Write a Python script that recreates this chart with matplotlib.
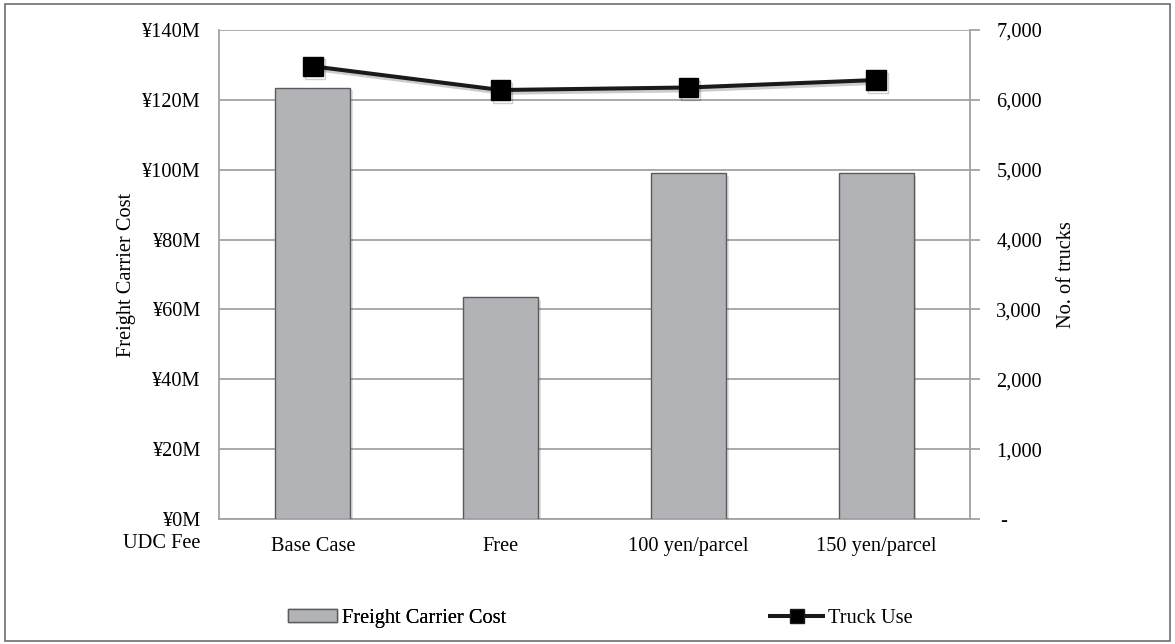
import matplotlib
matplotlib.use('Agg')
import matplotlib.pyplot as plt
import matplotlib.patheffects as pe
from matplotlib.patches import Rectangle, Patch
from matplotlib.lines import Line2D
from matplotlib.ticker import FuncFormatter

plt.rcParams['font.family'] = 'Liberation Serif'
plt.rcParams['font.size'] = 14.7

scenarios = ["Base Case", "Free", "100 yen/parcel", "150 yen/parcel"]
carrier_cost = [123.5, 63.6, 99.1, 99.1]      # million yen
truck_use = [6480, 6141, 6177, 6284]          # number of trucks

grid_col = '#a3a3a6'
bar_col = '#b2b3b6'


def yen_fmt(v, pos):
    return '¥%dM' % round(v)


def trucks_fmt(v, pos):
    if round(v) == 0:
        return ' -'
    return '{:,.0f}'.format(v)


def main():
    fig = plt.figure(figsize=(11.75, 6.44), dpi=100)
    ax = fig.add_axes([219 / 1175, 1 - 519 / 644, 751 / 1175, 489 / 644])

    x = list(range(len(scenarios)))
    shadow = [pe.SimplePatchShadow(offset=(2, -2), alpha=0.18, shadow_rgbFace='#555555'),
              pe.Normal()]
    ax.bar(x, carrier_cost, width=0.4, color=bar_col, edgecolor='#5a5a5c',
           linewidth=1.0, zorder=3, path_effects=shadow)

    ax.set_xlim(-0.5, 3.5)
    ax.set_ylim(0, 140)
    ax.set_yticks(range(0, 141, 20))
    ax.yaxis.set_major_formatter(FuncFormatter(yen_fmt))
    ax.yaxis.grid(True, color=grid_col, linewidth=1.3, zorder=0)
    ax.set_axisbelow(True)
    ax.set_xticks(x)
    ax.set_xticklabels(scenarios)
    ax.tick_params(axis='x', length=0, pad=13)
    ax.tick_params(axis='y', length=0, pad=13)
    ax.set_ylabel('Freight Carrier Cost')
    ax.yaxis.set_label_coords(-0.111, 0.5)
    for s in ['top', 'right']:
        ax.spines[s].set_visible(False)
    for s in ['left', 'bottom']:
        ax.spines[s].set_color(grid_col)
        ax.spines[s].set_linewidth(1.3)

    ax2 = ax.twinx()
    ax2.plot(x, truck_use, color='#1a1a1a', linewidth=2.9, marker='s',
             markersize=14, markerfacecolor='black', markeredgecolor='black',
             zorder=5,
             path_effects=[pe.SimpleLineShadow(offset=(1.5, -2), alpha=0.2), pe.Normal()])
    ax2.set_ylim(0, 7000)
    ax2.set_yticks(range(0, 7001, 1000))
    ax2.yaxis.set_major_formatter(FuncFormatter(trucks_fmt))
    ax2.tick_params(axis='y', length=7, width=1.3, color=grid_col, pad=12)
    ax2.set_ylabel('No. of trucks')
    ax2.yaxis.set_label_coords(1.116, 0.5)
    for s in ['top', 'left', 'bottom']:
        ax2.spines[s].set_visible(False)
    ax2.spines['right'].set_color(grid_col)
    ax2.spines['right'].set_linewidth(1.3)

    fig.text(200 / 1175, 1 - 544 / 644, 'UDC Fee', ha='right', va='center')

    h1 = Patch(facecolor=bar_col, edgecolor='#5a5a5c', linewidth=1.0)
    h2 = Line2D([], [], color='#1a1a1a', linewidth=2.9, marker='s',
                markersize=9.5, markerfacecolor='black')
    leg_kw = dict(frameon=False, borderpad=0, borderaxespad=0,
                  handletextpad=0.25, loc='center left')
    l1 = fig.legend([h1], ['Freight Carrier Cost'], handlelength=2.4,
                    handleheight=0.6, bbox_to_anchor=(288 / 1175, 1 - 618 / 644), **leg_kw)
    fig.add_artist(l1)
    fig.legend([h2], ['Truck Use'], handlelength=2.6,
               bbox_to_anchor=(770 / 1175, 1 - 618 / 644), **leg_kw)

    fig.add_artist(Rectangle((5 / 1175, 3 / 644), 1165 / 1175, 637 / 644,
                             transform=fig.transFigure, fill=False,
                             edgecolor='#6e6e6e', linewidth=1.2))

    fig.savefig('out.png', dpi=100)


if __name__ == "__main__": main()
